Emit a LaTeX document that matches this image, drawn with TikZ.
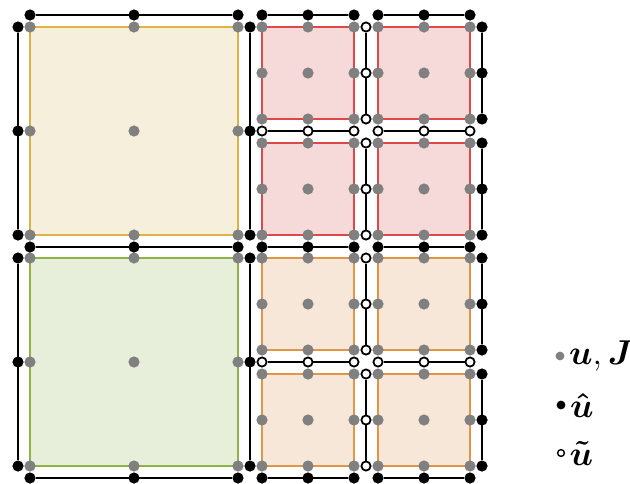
\documentclass[tikz,border=0pt]{standalone}
\usepackage{amsmath,amssymb,bm}
\usepackage{tikz}
\usetikzlibrary{positioning,backgrounds}
\definecolor{yelfill}{RGB}{246,239,219}
\definecolor{yelline}{RGB}{222,178,69}
\definecolor{redfill}{RGB}{246,217,217}
\definecolor{redline}{RGB}{224,72,72}
\definecolor{grnfill}{RGB}{231,238,217}
\definecolor{grnline}{RGB}{141,180,69}
\definecolor{orgfill}{RGB}{246,231,217}
\definecolor{orgline}{RGB}{227,149,69}
\tikzset{
  gdot/.style={circle,fill=black!50,inner sep=0pt,minimum size=5.6pt},
  hdot/.style={circle,fill=black,inner sep=0pt,minimum size=5.6pt},
  tdot/.style={circle,draw=black,fill=white,line width=0.9pt,inner sep=0pt,
    minimum size=4.6pt},
  fedge/.style={line width=1.1pt,black},
  ycell/.style={draw=yelline,fill=yelfill,line width=1.2pt},
  gcell/.style={draw=grnline,fill=grnfill,line width=1.2pt},
  rcell/.style={draw=redline,fill=redfill,line width=1.2pt},
  ocell/.style={draw=orgline,fill=orgfill,line width=1.2pt},
  legtext/.style={font=\LARGE,inner sep=1pt,anchor=west},
}
\begin{document}
\begin{tikzpicture}[x=0.5pt,y=-0.5pt]
  \useasboundingbox (0,0) rectangle (630,483);
  % cells
  \draw[ycell] (30,27) rectangle (238,235);
  \draw[gcell] (30,258) rectangle (238,466);
  \foreach \x in {262,378}{
    \foreach \y in {27,143}{\draw[rcell] (\x,\y) rectangle ++(92,92);}
    \foreach \y in {258,374}{\draw[ocell] (\x,\y) rectangle ++(92,92);}
  }
  % u,J inside the cells
  \foreach \y in {27,258}{
    \foreach \i in {0,1,2}{\foreach \j in {0,1,2}{
      \node[gdot] (big-\y-\i\j) at (30+104*\i,\y+104*\j) {};}}}
  \foreach \x in {262,378}{\foreach \y in {27,143,258,374}{
    \foreach \i in {0,1,2}{\foreach \j in {0,1,2}{
      \node[gdot] (sm-\x-\y-\i\j) at (\x+46*\i,\y+46*\j) {};}}}}
  % hat faces, horizontal
  \foreach \y in {15,247,478}{
    \foreach \i in {0,1,2}{\node[hdot] (hc-\y-\i) at (30+104*\i,\y) {};}
    \begin{scope}[on background layer]\draw[fedge] (hc-\y-0) -- (hc-\y-2);\end{scope}
    \foreach \x in {262,378}{
      \foreach \i in {0,1,2}{\node[hdot] (hf-\x-\y-\i) at (\x+46*\i,\y) {};}
      \begin{scope}[on background layer]\draw[fedge] (hf-\x-\y-0) -- (hf-\x-\y-2);\end{scope}
    }
  }
  % hat faces, vertical
  \foreach \x in {18,250}{\foreach \y in {27,258}{
    \foreach \j in {0,1,2}{\node[hdot] (vc-\x-\y-\j) at (\x,\y+104*\j) {};}
    \begin{scope}[on background layer]\draw[fedge] (vc-\x-\y-0) -- (vc-\x-\y-2);\end{scope}
  }}
  \foreach \y in {27,143,258,374}{
    \foreach \j in {0,1,2}{\node[hdot] (vf-\y-\j) at (482,\y+46*\j) {};}
    \begin{scope}[on background layer]\draw[fedge] (vf-\y-0) -- (vf-\y-2);\end{scope}
  }
  % tilde faces
  \foreach \y in {27,143,258,374}{
    \foreach \j in {0,1,2}{\node[tdot] (tv-\y-\j) at (366,\y+46*\j) {};}
    \begin{scope}[on background layer]\draw[fedge] (tv-\y-0) -- (tv-\y-2);\end{scope}
  }
  \foreach \y in {131,362}{\foreach \x in {262,378}{
    \foreach \i in {0,1,2}{\node[tdot] (th-\x-\y-\i) at (\x+46*\i,\y) {};}
    \begin{scope}[on background layer]\draw[fedge] (th-\x-\y-0) -- (th-\x-\y-2);\end{scope}
  }}
  % legend
  \node[gdot,minimum size=4.4pt] (lg-u) at (560,356) {};
  \node[hdot,minimum size=4.4pt] (lg-hat) at (561,405) {};
  \node[tdot,minimum size=3.4pt,line width=0.7pt] (lg-tilde) at (561,453) {};
  \node[legtext,right=1pt of lg-u] (lt-u) {$\boldsymbol{u},\boldsymbol{J}$};
  \node[legtext,right=1pt of lg-hat] (lt-hat) {$\boldsymbol{\hat{u}}$};
  \node[legtext,right=1pt of lg-tilde] (lt-tilde) {$\boldsymbol{\tilde{u}}$};
\end{tikzpicture}
\end{document}
